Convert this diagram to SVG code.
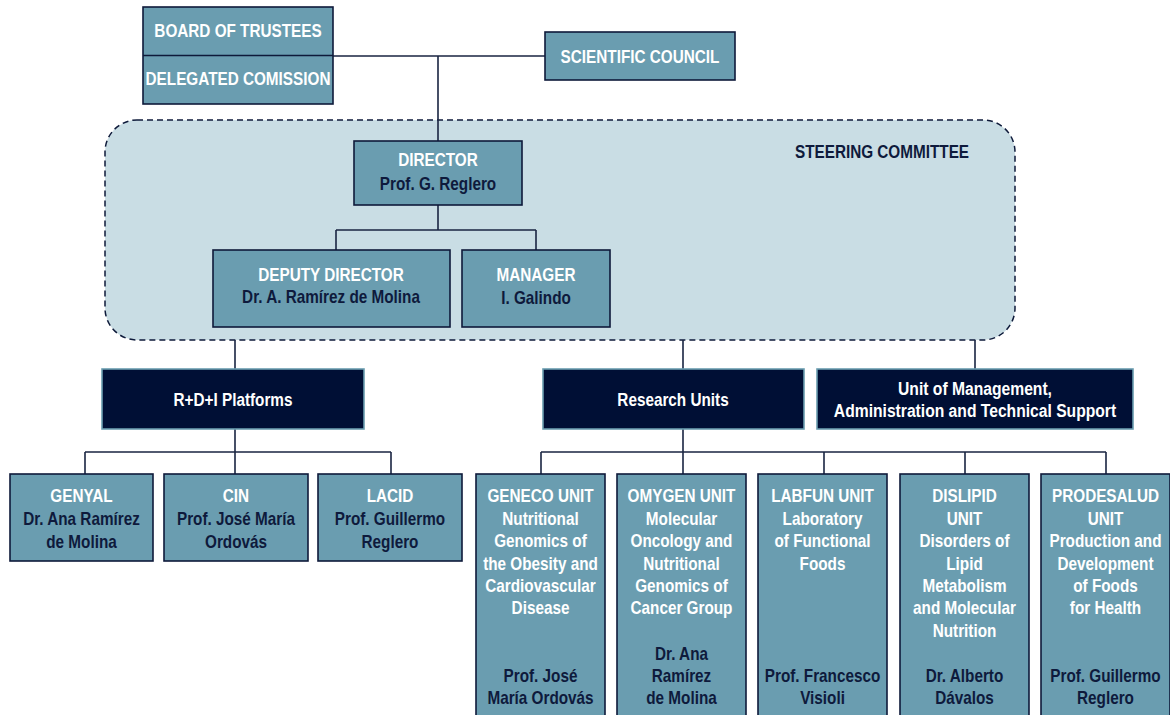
<svg xmlns="http://www.w3.org/2000/svg" width="1170" height="715" viewBox="0 0 1170 715">
<style>
text{font-family:"Liberation Sans Narrow","Liberation Sans",Arial,sans-serif;font-weight:bold;font-size:18px;text-anchor:middle}
.box{fill:#6a9db0;stroke:#0e1a3a;stroke-width:1.6}
.dark{fill:#000f35;stroke:#6a9db0;stroke-width:1.6}
.h{fill:#ffffff}
.n{fill:#0e1a3c}
.w{fill:#ffffff}
.conn{fill:none;stroke:#1a2542;stroke-width:1.6}
</style>
<rect width="1170" height="715" fill="#ffffff"/>
<g id="steering">
<rect x="105" y="120" width="910" height="220" rx="32" ry="32" fill="#c9dde4" stroke="#0e1a3a" stroke-width="1.5" stroke-dasharray="6,4"/>
<g transform="translate(882,0) scale(0.85,1)"><text x="0" y="158" class="n">STEERING COMMITTEE</text></g>
</g>
<g id="connectors">
<path class="conn" d="M333 56 H545 M438 56 V141"/>
<path class="conn" d="M438 205 V230 M336 230 H536 M336 230 V250 M536 230 V250"/>
<path class="conn" d="M235 340 V369 M683 340 V369 M975 340 V369"/>
<path class="conn" d="M235 429 V474 M85 452 H391 M85 452 V474 M391 452 V474"/>
<path class="conn" d="M683 429 V474 M541 452 H1106 M541 452 V474 M824 452 V474 M965 452 V474 M1106 452 V474"/>
</g>
<g id="board">
<rect class="box" x="143" y="7" width="190" height="97"/>
<line x1="143" y1="55.5" x2="333" y2="55.5" stroke="#0e1a3a" stroke-width="1.6"/>
<g transform="translate(238,0) scale(0.85,1)">
<text x="0" y="37" class="h">BOARD OF TRUSTEES</text>
<text x="0" y="85" class="h">DELEGATED COMISSION</text>
</g>
</g>
<g id="scientific">
<rect class="box" x="545" y="32" width="190" height="48"/>
<g transform="translate(640,0) scale(0.85,1)"><text x="0" y="63" class="h">SCIENTIFIC COUNCIL</text></g>
</g>
<g id="director">
<rect class="box" x="354" y="141" width="168" height="64"/>
<g transform="translate(438,0) scale(0.85,1)">
<text x="0" y="166" class="h">DIRECTOR</text>
<text x="0" y="190" class="n">Prof. G. Reglero</text>
</g>
</g>
<g id="deputy">
<rect class="box" x="213" y="250" width="237" height="77"/>
<g transform="translate(331,0) scale(0.85,1)">
<text x="0" y="281" class="h">DEPUTY DIRECTOR</text>
<text x="0" y="303" class="n">Dr. A. Ramírez de Molina</text>
</g>
</g>
<g id="manager">
<rect class="box" x="462" y="250" width="148" height="77"/>
<g transform="translate(536,0) scale(0.85,1)">
<text x="0" y="281" class="h">MANAGER</text>
<text x="0" y="304" class="n">I. Galindo</text>
</g>
</g>
<g id="platforms">
<rect class="dark" x="102" y="369" width="262" height="60"/>
<g transform="translate(233,0) scale(0.85,1)"><text x="0" y="406" class="w">R+D+I Platforms</text></g>
</g>
<g id="research">
<rect class="dark" x="543" y="369" width="261" height="60"/>
<g transform="translate(673,0) scale(0.85,1)"><text x="0" y="406" class="w">Research Units</text></g>
</g>
<g id="management">
<rect class="dark" x="817" y="369" width="316" height="60"/>
<g transform="translate(975,0) scale(0.87,1)">
<text x="0" y="395" class="w">Unit of Management,</text>
<text x="0" y="417" class="w">Administration and Technical Support</text>
</g>
</g>
<g id="genyal">
<rect class="box" x="10" y="474" width="143" height="87"/>
<g transform="translate(81.5,0) scale(0.85,1)">
<text x="0" y="502" class="h">GENYAL</text>
<text x="0" y="525" class="n">Dr. Ana Ramírez</text>
<text x="0" y="548" class="n">de Molina</text>
</g>
</g>
<g id="cin">
<rect class="box" x="164" y="474" width="144" height="87"/>
<g transform="translate(236,0) scale(0.85,1)">
<text x="0" y="502" class="h">CIN</text>
<text x="0" y="525" class="n">Prof. José María</text>
<text x="0" y="548" class="n">Ordovás</text>
</g>
</g>
<g id="lacid">
<rect class="box" x="318" y="474" width="144" height="87"/>
<g transform="translate(390,0) scale(0.85,1)">
<text x="0" y="502" class="h">LACID</text>
<text x="0" y="525" class="n">Prof. Guillermo</text>
<text x="0" y="548" class="n">Reglero</text>
</g>
</g>
<g id="geneco">
<rect class="box" x="476" y="474" width="129" height="250"/>
<g transform="translate(540.5,0) scale(0.85,1)">
<text x="0" y="502" class="h">GENECO UNIT</text>
<text x="0" y="525" class="h">Nutritional</text>
<text x="0" y="547" class="h">Genomics of</text>
<text x="0" y="570" class="h">the Obesity and</text>
<text x="0" y="592" class="h">Cardiovascular</text>
<text x="0" y="614" class="h">Disease</text>
<text x="0" y="682" class="n">Prof. José</text>
<text x="0" y="704" class="n">María Ordovás</text>
</g>
</g>
<g id="omygen">
<rect class="box" x="617" y="474" width="129" height="250"/>
<g transform="translate(681.5,0) scale(0.85,1)">
<text x="0" y="502" class="h">OMYGEN UNIT</text>
<text x="0" y="525" class="h">Molecular</text>
<text x="0" y="547" class="h">Oncology and</text>
<text x="0" y="570" class="h">Nutritional</text>
<text x="0" y="592" class="h">Genomics of</text>
<text x="0" y="614" class="h">Cancer Group</text>
<text x="0" y="660" class="n">Dr. Ana</text>
<text x="0" y="682" class="n">Ramírez</text>
<text x="0" y="704" class="n">de Molina</text>
</g>
</g>
<g id="labfun">
<rect class="box" x="758" y="474" width="129" height="250"/>
<g transform="translate(822.5,0) scale(0.85,1)">
<text x="0" y="502" class="h">LABFUN UNIT</text>
<text x="0" y="525" class="h">Laboratory</text>
<text x="0" y="547" class="h">of Functional</text>
<text x="0" y="570" class="h">Foods</text>
<text x="0" y="682" class="n">Prof. Francesco</text>
<text x="0" y="704" class="n">Visioli</text>
</g>
</g>
<g id="dislipid">
<rect class="box" x="900" y="474" width="129" height="250"/>
<g transform="translate(964.5,0) scale(0.85,1)">
<text x="0" y="502" class="h">DISLIPID</text>
<text x="0" y="525" class="h">UNIT</text>
<text x="0" y="547" class="h">Disorders of</text>
<text x="0" y="570" class="h">Lipid</text>
<text x="0" y="592" class="h">Metabolism</text>
<text x="0" y="614" class="h">and Molecular</text>
<text x="0" y="637" class="h">Nutrition</text>
<text x="0" y="682" class="n">Dr. Alberto</text>
<text x="0" y="704" class="n">Dávalos</text>
</g>
</g>
<g id="prodesalud">
<rect class="box" x="1041" y="474" width="129" height="250"/>
<g transform="translate(1105.5,0) scale(0.85,1)">
<text x="0" y="502" class="h">PRODESALUD</text>
<text x="0" y="525" class="h">UNIT</text>
<text x="0" y="547" class="h">Production and</text>
<text x="0" y="570" class="h">Development</text>
<text x="0" y="592" class="h">of Foods</text>
<text x="0" y="614" class="h">for Health</text>
<text x="0" y="682" class="n">Prof. Guillermo</text>
<text x="0" y="704" class="n">Reglero</text>
</g>
</g>
</svg>
